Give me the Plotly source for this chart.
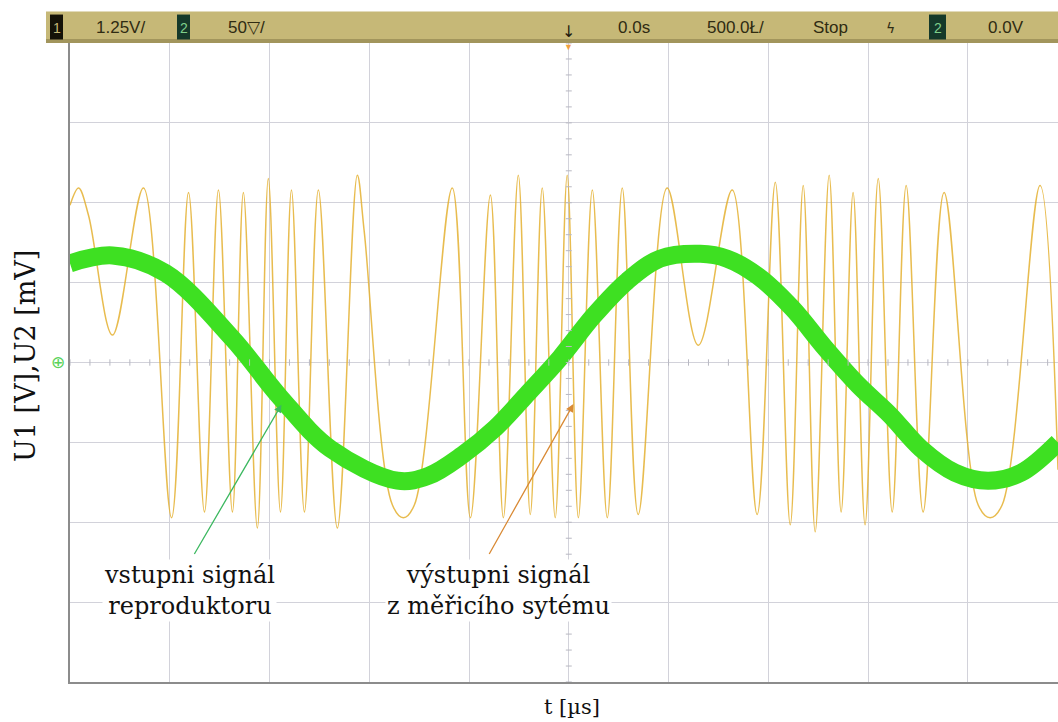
import plotly.graph_objects as go
import numpy as np

# ---------------- data ----------------
# channel 1 (yellow): turning points of the output signal, time in µs, voltage in V
t_out = [-2500, -2457, -2407, -2287, -2132, -1991, -1906, -1826, -1756, -1686,
         -1631, -1561, -1506, -1445, -1390, -1325, -1255, -1160, -1060, -1025,
         -884, -829, -774, -584, -493, -393, -328, -253, -193, -133,
         -68, -8, 48, 118, 193, 268, 348, 493, 649, 819,
         944, 1035, 1110, 1175, 1235, 1305, 1365, 1425, 1485, 1551,
         1621, 1691, 1776, 1881, 2052, 2112, 2172, 2362, 2452]
u_out = [2.46, 2.73, 2.30, 0.43, 2.73, -2.43, 2.66, -2.34, 2.70, -2.34,
         2.66, -2.59, 2.88, -2.34, 2.70, -2.34, 2.70, -2.59, 2.93, 2.04,
         -2.23, -2.43, -2.23, 2.73, -2.43, 2.62, -2.43, 2.93, -2.38, 2.73,
         -2.43, 2.93, -2.43, 2.70, -2.43, 2.73, -2.38, 2.73, 0.27, 2.70,
         -2.38, 2.82, -2.54, 2.77, -2.65, 2.93, -2.34, 2.66, -2.54, 2.88,
         -2.34, 2.77, -2.34, 2.66, -2.23, -2.43, -2.23, 2.77, -1.68]

# channel 2 (green): input signal of the loudspeaker, time in µs, voltage in mV
t_in = [-2500, -2287, -2022, -1686, -1445, -1195, -859, -704, -534, -368,
        -203, -43, 123, 293, 458, 659, 794, 949, 1120, 1285,
        1450, 1611, 1766, 1936, 2102, 2267, 2452]
u_in = [62, 67, 56, 15, -22, -54, -74, -71, -58, -41,
        -19, 3, 29, 51, 65, 68, 65, 54, 34, 9,
        -14, -33, -54, -69, -74, -69, -50]

# header texts of the oscilloscope
hdr_ch1 = "1.25V/"
hdr_ch2 = "50▽/"
hdr_delay = "0.0s"
hdr_time = "500.0Ł/"
hdr_state = "Stop"
hdr_level = "0.0V"

label_in = "vstupni signál<br>reproduktoru"
label_out = "výstupni signál<br>z měřicího sytému"
x_title = "t [µs]"
y_title = "U1 [V],U2 [mV]"

# ---------------- layout helpers ----------------
L, T, R, B = 70, 42.5, 1058, 682.5
W, H = 1058, 722
def P(px):
    return (px - L) / (R - L)
def Q(py):
    return (B - py) / (B - T)

XR = [-2500, 2452]
YR = [-5, 5]

fig = go.Figure()
fig.add_trace(go.Scatter(x=t_out, y=u_out, mode="lines",
                         line=dict(color="rgba(228,176,48,0.85)", width=1.5, shape="spline", smoothing=1.0),
                         yaxis="y", hoverinfo="skip", showlegend=False))
fig.add_trace(go.Scatter(x=t_in, y=u_in, mode="lines",
                         line=dict(color="#3EE022", width=18, shape="spline", smoothing=1.0),
                         yaxis="y2", hoverinfo="skip", showlegend=False))

grid = "#D2D2DA"
fig.update_layout(
    width=W, height=H, autosize=False,
    margin=dict(l=L, r=W - R, t=T, b=H - B, pad=0),
    paper_bgcolor="white", plot_bgcolor="white",
    xaxis=dict(range=XR, tick0=0, dtick=500, showgrid=True, gridcolor=grid, gridwidth=1,
               showticklabels=False, ticks="", zeroline=False,
               showline=True, linecolor="#8C8C8C", linewidth=2),
    yaxis=dict(range=YR, tick0=0, dtick=1.25, showgrid=True, gridcolor=grid, gridwidth=1,
               showticklabels=False, ticks="", zeroline=False,
               showline=True, linecolor="#8C8C8C", linewidth=2),
    yaxis2=dict(range=[-200, 200], overlaying="y", visible=False),
    showlegend=False,
)

shapes = []
# minor ticks on the centre cross
for xv in np.arange(XR[0], XR[1] + 1, 100):
    shapes.append(dict(type="line", xref="x", yref="y", x0=xv, x1=xv, y0=-0.05, y1=0.05,
                       line=dict(color="#B8B8C2", width=1)))
for yv in np.arange(YR[0], YR[1] + 0.001, 0.25):
    shapes.append(dict(type="line", xref="x", yref="y", x0=-15, x1=15, y0=yv, y1=yv,
                       line=dict(color="#B8B8C2", width=1)))
# header bar
shapes.append(dict(type="rect", xref="paper", yref="paper", x0=P(46), x1=P(1062), y0=Q(42.5), y1=Q(11),
                   fillcolor="#C6B877", line=dict(width=0), layer="above"))
shapes.append(dict(type="rect", xref="paper", yref="paper", x0=P(46), x1=P(1062), y0=Q(42.5), y1=Q(38.5),
                   fillcolor="#A2955C", line=dict(width=0), layer="above"))
# channel boxes
shapes.append(dict(type="rect", xref="paper", yref="paper", x0=P(50), x1=P(63), y0=Q(39), y1=Q(14),
                   fillcolor="#141208", line=dict(width=0), layer="above"))
shapes.append(dict(type="rect", xref="paper", yref="paper", x0=P(177), x1=P(190), y0=Q(39), y1=Q(14),
                   fillcolor="#15392A", line=dict(width=0), layer="above"))
shapes.append(dict(type="rect", xref="paper", yref="paper", x0=P(929), x1=P(946), y0=Q(39), y1=Q(14),
                   fillcolor="#15392A", line=dict(width=0), layer="above"))
fig.update_layout(shapes=shapes)

hfont = dict(family="Liberation Sans Narrow, Arial Narrow, Liberation Sans, sans-serif", size=17, color="#2F2B12")
ann = []
def hdr(px, text, font=hfont, py=27):
    ann.append(dict(xref="paper", yref="paper", x=P(px), y=Q(py), text=text, showarrow=False,
                    xanchor="center", yanchor="middle", font=font))
hdr(56.5, "1", dict(family="Liberation Sans", size=14, color="#C6B877"))
hdr(120, hdr_ch1)
hdr(183.5, "2", dict(family="Liberation Sans", size=14, color="#7FD08A"))
hdr(246, hdr_ch2)
hdr(568, "↓", dict(family="DejaVu Sans", size=16, color="#1E1B0C"), py=31)
hdr(634, hdr_delay)
hdr(735, hdr_time)
hdr(830, hdr_state)
hdr(890, "ϟ", dict(family="DejaVu Sans", size=14, color="#2F2B12"))
hdr(937.5, "2", dict(family="Liberation Sans", size=14, color="#7FD08A"))
hdr(1006, hdr_level)
# trigger position marker and ground marker
ann.append(dict(xref="paper", yref="paper", x=P(568), y=Q(46), text="▼", showarrow=False,
                font=dict(size=9, color="#F0A040"), xanchor="center", yanchor="middle"))
ann.append(dict(xref="paper", yref="paper", x=P(58), y=Q(362), text="⊕", showarrow=False,
                font=dict(family="DejaVu Sans", size=17, color="#5BD35B"), xanchor="center", yanchor="middle"))

serif = "DejaVu Serif, Liberation Serif, serif"
# arrows
ann.append(dict(xref="x", yref="y", axref="x", ayref="y", x=-1440, y=-0.66, ax=-1881, ay=-3.02,
                text="", showarrow=True, arrowhead=2, arrowsize=1.2, arrowwidth=1.3, arrowcolor="#3CB860"))
ann.append(dict(xref="x", yref="y", axref="x", ayref="y", x=23, y=-0.65, ax=-403, ay=-3.02,
                text="", showarrow=True, arrowhead=2, arrowsize=1.2, arrowwidth=1.3, arrowcolor="#D98A35"))
# labels
ann.append(dict(xref="x", yref="y", x=-1901, y=-3.57, text=label_in, showarrow=False,
                font=dict(family=serif, size=24, color="#111111"), bgcolor="white",
                xanchor="center", yanchor="middle", align="center"))
ann.append(dict(xref="x", yref="y", x=-351, y=-3.57, text=label_out, showarrow=False,
                font=dict(family=serif, size=24, color="#111111"), bgcolor="white",
                xanchor="center", yanchor="middle", align="center"))
ann.append(dict(xref="paper", yref="paper", x=P(572), y=Q(708), text=x_title, showarrow=False,
                font=dict(family=serif, size=21, color="#111111"), xanchor="center", yanchor="middle"))
ann.append(dict(xref="paper", yref="paper", x=P(25), y=Q(356), text=y_title, showarrow=False, textangle=-90,
                font=dict(family=serif, size=27, color="#111111"), xanchor="center", yanchor="middle"))
fig.update_layout(annotations=ann)

fig.write_html("out.html")
